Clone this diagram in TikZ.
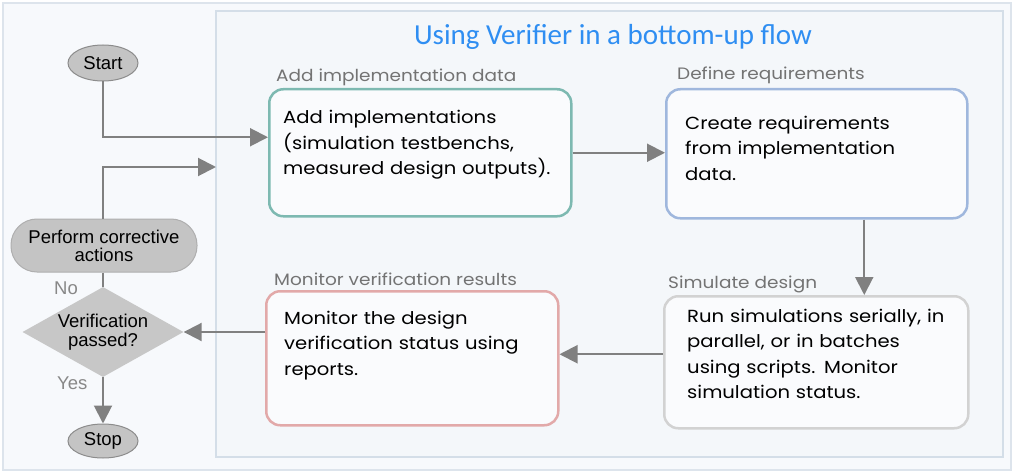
\documentclass[tikz,border=0pt]{standalone}
\usepackage{fontspec}
\setmainfont{Poppins}[FakeStretch=1.12]
\newfontfamily\arialf{Liberation Sans}
\newfontfamily\titlef{Carlito}
\usetikzlibrary{arrows.meta,shapes.geometric}
\definecolor{bgc}{HTML}{F7F9FC}
\definecolor{bgborder}{HTML}{DDE4EC}
\definecolor{panelc}{HTML}{F4F7FA}
\definecolor{panelborder}{HTML}{D4DEE8}
\definecolor{linec}{HTML}{808080}
\definecolor{termfill}{HTML}{C4C4C4}
\definecolor{termdraw}{HTML}{8C8C8C}
\definecolor{tealc}{HTML}{7DB9B1}
\definecolor{bluec}{HTML}{9FB7DD}
\definecolor{grayc}{HTML}{D2D2D2}
\definecolor{pinkc}{HTML}{E2A9A9}
\definecolor{headc}{HTML}{737373}
\definecolor{titlec}{HTML}{2F8EF2}
\definecolor{boxfill}{HTML}{FAFBFD}
\begin{document}
\begin{tikzpicture}[x=1pt,y=-1pt,
  conn/.style={draw=linec,line width=2pt,-{Triangle[length=18pt,width=18pt]}},
  plainconn/.style={draw=linec,line width=2pt},
  term/.style={ellipse,fill=termfill,draw=termdraw,line width=1pt,inner sep=0pt,font=\arialf\fontsize{18.5}{20}\selectfont},
  stepbox/.style={rectangle,rounded corners=14pt,line width=2.5pt,fill=boxfill,inner sep=0pt,anchor=north west},
  boxtext/.style={anchor=base west,inner sep=0pt,text width=290pt,align=left,font=\fontsize{17.5}{25.5}\selectfont,text=black},
  headtext/.style={anchor=base west,inner sep=0pt,font=\fontsize{16.5}{18}\selectfont,text=headc},
  gtext/.style={inner sep=0pt,font=\arialf\fontsize{18.5}{20}\selectfont,text=headc!85}
]
\useasboundingbox (0,0) rectangle (1014,473);
\fill[white] (0,0) rectangle (1014,473);
\draw[fill=bgc,draw=bgborder,line width=2pt] (3,3) rectangle (1011,470);
\draw[fill=panelc,draw=panelborder,line width=2pt] (216,11) rectangle (1003,457);

\node[anchor=base,inner sep=0pt,text=titlec,font=\titlef\fontsize{29}{31}\selectfont] (title) at (613,45) {Using Verifier in a bottom-up flow};

% boxes
\node[stepbox,draw=tealc,minimum width=302pt,minimum height=127pt] (add) at (268,88) {};
\node[stepbox,draw=bluec,minimum width=301pt,minimum height=129pt] (def) at (665,88) {};
\node[stepbox,draw=grayc,minimum width=304pt,minimum height=132pt] (sim) at (663,295) {};
\node[stepbox,draw=pinkc,minimum width=292pt,minimum height=134pt] (mon) at (265,290) {};

\node[headtext] (addh) at (276,82) {Add implementation data};
\node[headtext] (defh) at (677,80) {Define requirements};
\node[headtext] (simh) at (668,288) {Simulate design};
\node[headtext] (monh) at (274,285) {Monitor verification results};

\node[boxtext] (addt) at (283,124) {Add implementations\\(simulation testbenchs,\\measured design outputs).};
\node[boxtext] (deft) at (685,129.5) {Create requirements\\from implementation\\data.};
\node[boxtext] (simt) at (687,322) {Run simulations serially, in\\parallel, or in batches\\using scripts. Monitor\\simulation status.};
\node[boxtext] (mont) at (284,324) {Monitor the design\\verification status using\\reports.};

% left flowchart
\node[term,minimum width=70pt,minimum height=36pt] (start) at (103,63) {Start};
\node[term,minimum width=70pt,minimum height=34pt] (stop) at (103,441) {Stop};
\node[rectangle,rounded corners=26pt,fill=termfill,draw=termdraw!70,line width=1pt,minimum width=186pt,minimum height=53pt,inner sep=0pt,align=center,font=\arialf\fontsize{18.5}{18}\selectfont] (perf) at (104,245.5) {Perform corrective\\actions};
\node[diamond,fill=termfill!95!white,inner sep=0pt,minimum width=161pt,minimum height=90pt,aspect=1.79,align=center,font=\arialf\fontsize{18.5}{19.5}\selectfont] (dia) at (103,332) {Verification\\passed?};
\node[gtext,anchor=west] (no) at (54,288) {No};
\node[gtext,anchor=west] (yes) at (57,383) {Yes};
\coordinate (fb) at (216,167);

% connectors
\draw[conn] (start.south) |- ([yshift=15.5pt]add.west);
\draw[conn] (perf.north -| start.south) |- (fb);
\draw[conn] (add.east) -- (add.east -| def.west);
\draw[conn] ([xshift=47.5pt]def.south) -- ([xshift=47.5pt]def.south |- sim.north);
\draw[conn] ([yshift=8pt]sim.west) -- ([yshift=8pt]sim.west -| mon.east);
\draw[conn] (mon.west |- dia.east) -- (dia.east);
\draw[plainconn] (perf.south -| dia.north) -- (dia.north);
\draw[conn] (dia.south) -- (stop.north);
\end{tikzpicture}
\end{document}
